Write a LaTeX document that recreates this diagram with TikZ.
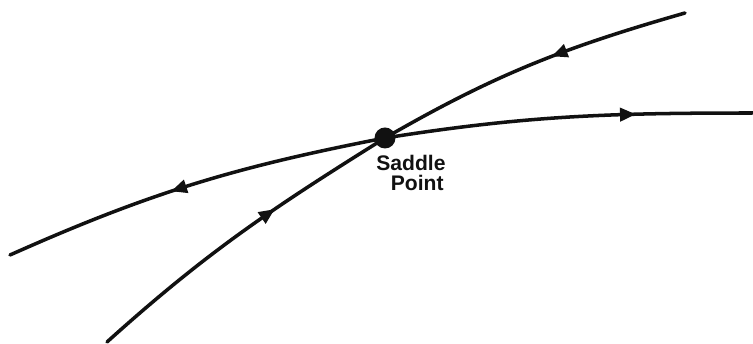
\documentclass[tikz,border=0pt]{standalone}
\usepackage{fontspec}
\usepackage{tikz}
\usetikzlibrary{arrows.meta,positioning,decorations.markings}
\newfontfamily\lblfont{Liberation Sans}
\definecolor{ink}{HTML}{111111}
\tikzset{
  orbit/.style={draw=ink, line width=2pt, line cap=round},
  flowmark/.style={postaction={decorate}, decoration={markings,
      mark=at position #1 with {\arrow{Triangle[length=9pt,width=7.5pt]}}}},
  saddle/.style={circle, fill=ink, inner sep=0pt, minimum size=0.42cm},
  lbl/.style={font=\lblfont\bfseries\fontsize{12}{11}\selectfont, text=ink, align=center, inner sep=0pt},
}
\begin{document}
\begin{tikzpicture}[x=1cm,y=1cm]
\useasboundingbox (0,0) rectangle (15.06,6.88);

\coordinate (a1) at (2.14,0.04);
\coordinate (a2) at (13.70,6.62);
\coordinate (b1) at (0.20,1.78);
\coordinate (b2) at (15.20,4.62);
\node[saddle] (sp) at (7.70,4.12) {};
\node[lbl] (txt) at (8.22,3.42) {Saddle\\\hspace*{0.25cm}Point};

% stable curve: flows in
\draw[orbit, flowmark=0.62] (a1) to[out=42, in=212] (sp.center);
\draw[orbit, flowmark=0.43] (a2) to[out=196, in=30] (sp.center);
% unstable curve: flows out
\draw[orbit, flowmark=0.56] (sp.center) to[out=191, in=24] (b1);
\draw[orbit, flowmark=0.67] (sp.center) to[out=9, in=180] (b2);
\end{tikzpicture}
\end{document}
